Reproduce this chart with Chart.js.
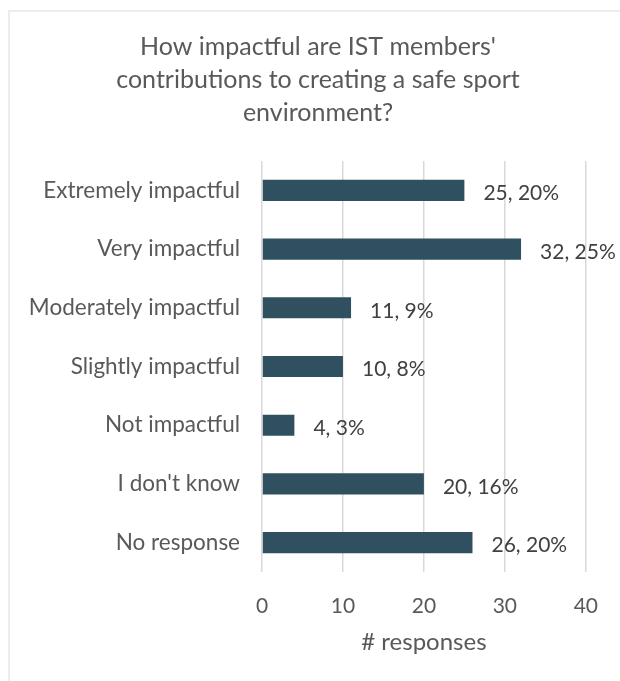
<!DOCTYPE html>
<html>
<head>
<meta charset="utf-8">
<script src="https://cdn.jsdelivr.net/npm/chart.js@4"></script>
<style>
  html, body { margin: 0; padding: 0; background: #fff; overflow: hidden; }
  #wrap { position: relative; width: 620px; height: 681px; overflow: hidden; }
  #frame { position: absolute; left: 8px; top: 10px; width: 700px; height: 700px; border: 2px solid #ededed; box-sizing: border-box; }
  #c { position: absolute; left: 0; top: 0; }
</style>
</head>
<body>
<div id="wrap">
  <div id="frame"></div>
  <canvas id="c" width="620" height="681"></canvas>
</div>
<script>
const categories = [
  'Extremely impactful',
  'Very impactful',
  'Moderately impactful',
  'Slightly impactful',
  'Not impactful',
  "I don't know",
  'No response'
];
const responses = [25, 32, 11, 10, 4, 20, 26];
const percents = [20, 25, 9, 8, 3, 16, 20];
const xTicks = [0, 10, 20, 30, 40];
const titleLines = ["How impactful are IST members'", 'contributions to creating a safe sport', 'environment?'];

const FONT = 'Lato, "Open Sans", sans-serif';
const TEXT = '#595959';

// Three-line heading, centred inside the framed panel
const heading = {
  id: 'heading',
  afterDraw(chart) {
    const ctx = chart.ctx;
    ctx.save();
    ctx.font = '25px ' + FONT;
    ctx.fillStyle = TEXT;
    ctx.textAlign = 'center';
    ctx.textBaseline = 'middle';
    titleLines.forEach((line, i) => ctx.fillText(line, 318, 47 + i * 33));
    ctx.restore();
  }
};

// Writes "count, pct%" just past the end of each bar
const barLabels = {
  id: 'barLabels',
  afterDatasetsDraw(chart) {
    const ctx = chart.ctx;
    const meta = chart.getDatasetMeta(0);
    ctx.save();
    ctx.font = '21px ' + FONT;
    ctx.fillStyle = '#404040';
    ctx.textAlign = 'left';
    ctx.textBaseline = 'middle';
    meta.data.forEach((bar, i) => {
      ctx.fillText(responses[i] + ', ' + percents[i] + '%', bar.x + 19, bar.y + 3);
    });
    ctx.restore();
  }
};

new Chart(document.getElementById('c'), {
  type: 'bar',
  data: {
    labels: categories,
    datasets: [{
      data: responses,
      backgroundColor: '#30505f',
      borderWidth: 0,
      barPercentage: 0.36,
      categoryPercentage: 1
    }]
  },
  options: {
    indexAxis: 'y',
    responsive: false,
    animation: false,
    events: [],
    layout: { padding: { left: 3, right: 33, top: 161, bottom: 24 } },
    plugins: {
      legend: { display: false },
      tooltip: { enabled: false },
      title: { display: false }
    },
    scales: {
      x: {
        min: 0,
        max: 40,
        afterBuildTicks(scale) { scale.ticks = xTicks.map(v => ({ value: v })); },
        afterFit(scale) { scale.height = 85; },
        grid: { color: '#d9d9d9', lineWidth: 1.5, drawTicks: false },
        border: { display: false },
        ticks: { color: TEXT, padding: 22, font: { family: FONT, size: 21 } },
        title: {
          display: true,
          text: '# responses',
          color: TEXT,
          font: { family: FONT, size: 24 },
          padding: { top: 0, bottom: 0 }
        }
      },
      y: {
        grid: { display: false, drawTicks: false },
        border: { display: false },
        ticks: { color: TEXT, padding: 22, font: { family: FONT, size: 22.5 } },
        afterFit(scale) { scale.width = 259; }
      }
    }
  },
  plugins: [barLabels, heading]
});
</script>
</body>
</html>
